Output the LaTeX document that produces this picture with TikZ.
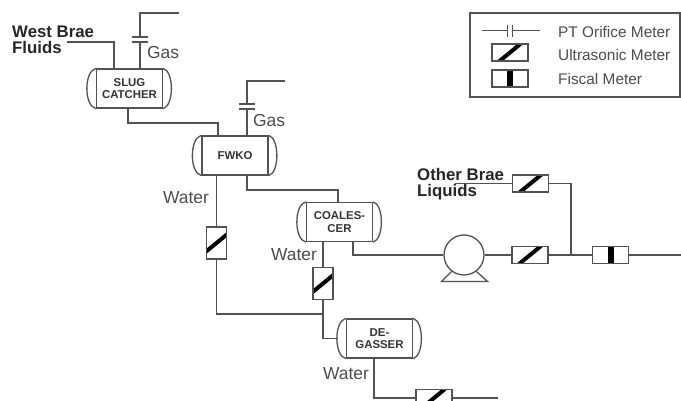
\documentclass[tikz,border=0pt]{standalone}
\usepackage{fontspec}
\setmainfont{Liberation Sans}
\usepackage{xcolor}
\usetikzlibrary{arrows.meta,positioning}

\definecolor{pipe}{gray}{0.32}
\definecolor{inktext}{gray}{0.3}

\tikzset{
  pipeline/.style={draw=pipe,line width=1.3pt},
  vessel/.style={pipeline,fill=white,minimum width=66pt,minimum height=39pt,inner sep=0pt,align=center,
    text=black!80,font=\fontsize{11.4}{12.5}\bfseries\selectfont},
  metersonic/.style={pipeline,fill=white,inner sep=0pt,minimum width=36pt,minimum height=17pt,
    path picture={\draw[black,line width=4pt]
      ([shift={(-11,9)}]path picture bounding box.center) -- ([shift={(11,-9)}]path picture bounding box.center);}},
  metersonicv/.style={metersonic,minimum width=20pt,minimum height=32pt},
  meterfiscal/.style={pipeline,fill=white,inner sep=0pt,minimum width=36pt,minimum height=17pt,
    path picture={\fill[black] ([xshift=-3pt]path picture bounding box.north) rectangle ([xshift=3pt]path picture bounding box.south);}},
  orifice/.style={inner sep=0pt,minimum width=15pt,minimum height=4.5pt},
  pumpbody/.style={pipeline,circle,fill=white,inner sep=0pt,minimum size=40pt},
  plain/.style={inner sep=0pt,anchor=west,text=inktext,font=\fontsize{17.4}{19}\selectfont},
  keytext/.style={inner sep=0pt,anchor=west,text=inktext,font=\fontsize{15.4}{17}\selectfont},
  stream/.style={inner sep=0pt,anchor=west,align=left,text=black!85,font=\fontsize{16.8}{16}\bfseries\selectfont}
}

\begin{document}
\begin{tikzpicture}[x=1pt,y=-1pt]
\useasboundingbox[fill=white] (0,0) rectangle (681,401);

\node[pipeline,minimum width=210pt,minimum height=84pt,inner sep=0pt] (legend) at (575,55) {};
\coordinate (keyleft) at (482,31);
\coordinate (keyright) at (540,31);
\node[orifice,minimum width=4.5pt,minimum height=12pt] (keyorifice) at (510,31) {};
\draw[pipeline] (keyorifice.north west)--(keyorifice.south west);
\draw[pipeline] (keyorifice.north east)--(keyorifice.south east);
\draw[pipe,line width=1pt] (keyleft)--(keyorifice.west);
\draw[pipe,line width=1pt] (keyorifice.east)--(keyright);
\node[metersonic] (keysonic) at (510,52.5) {};
\node[meterfiscal] (keyfiscal) at (510,78.5) {};
\node[keytext] (keytexta) at (558,32) {PT Orifice Meter};
\node[keytext] (keytextb) at (558,55) {Ultrasonic Meter};
\node[keytext] (keytextc) at (558,79) {Fiscal Meter};

\node[vessel] (slug) at (129.5,88.5) {SLUG\\CATCHER};
\node[vessel] (fwko) at (235,155.5) {FWKO};
\node[vessel] (coal) at (339.5,222) {COALES-\\CER};
\node[vessel] (degas) at (379.5,338.5) {DE-\\GASSER};
\foreach \vname in {slug,fwko,coal,degas} {
  \draw[pipeline] (\vname.north west) .. controls +(-12,3) and +(-12,-3) .. (\vname.south west);
  \draw[pipeline] (\vname.north east) .. controls +(11,3) and +(11,-3) .. (\vname.south east);
}

\node[orifice] (slugorifice) at (140,39.5) {};
\node[orifice] (fwkoorifice) at (247,106.5) {};
\foreach \oname in {slugorifice,fwkoorifice} {
  \draw[pipeline] (\oname.north west)--(\oname.north east);
  \draw[pipeline] (\oname.south west)--(\oname.south east);
}
\coordinate (sluggas) at (179,13);
\coordinate (fwkogas) at (285,81);
\coordinate (westin) at (67,42);
\coordinate (otherin) at (455,183.5);
\coordinate (fwkojoin) at (323,314);
\coordinate (tee) at (571,255);
\coordinate (exportout) at (681,255);
\coordinate (waterout) at (498,398);

\node[metersonicv] (fwkometer) at (216.5,243) {};
\node[metersonicv] (coalmeter) at (323,283.5) {};
\node[metersonic] (watermeter) at (434,398) {};
\node[pumpbody] (pump) at (464,255) {};
\node[metersonic] (pumpmeter) at (530,255) {};
\node[metersonic] (othermeter) at (530.5,183.5) {};
\node[meterfiscal] (fiscal) at (610.5,255) {};

\draw[pipeline] (westin) -| ([xshift=-15.5pt]slug.north);
\draw[pipeline] ([xshift=10.5pt]slug.north) -- (slugorifice);
\draw[pipeline] (slugorifice) |- (sluggas);
\draw[pipeline] ([xshift=-1.5pt]slug.south) |- (218,123) -- ([xshift=-17pt]fwko.north);
\draw[pipeline] ([xshift=12pt]fwko.north) -- (fwkoorifice);
\draw[pipeline] (fwkoorifice) |- (fwkogas);
\draw[pipeline] ([xshift=-18.5pt]fwko.south) -- (fwkometer);
\draw[pipeline] (fwkometer) |- (fwkojoin);
\draw[pipeline] ([xshift=12pt]fwko.south) |- (338,190) -- ([xshift=-1.5pt]coal.north);
\draw[pipeline] ([xshift=-16.5pt]coal.south) -- (coalmeter);
\draw[pipeline] (coalmeter) |- ([xshift=-9pt]degas.west);
\draw[pipeline] ([xshift=13.5pt]coal.south) |- (pump);
\draw[pipeline] ([xshift=-5.5pt]degas.south) |- (watermeter);
\draw[pipeline] (watermeter) -- (waterout);
\draw[pipeline] (pump) -- (pumpmeter);
\draw[pipeline] (pumpmeter) -- (fiscal);
\draw[pipeline] (fiscal) -- (exportout);
\draw[pipeline] (otherin) -- (othermeter);
\draw[pipeline] (othermeter) -| (tee);
\draw[pipeline] (pump.233) -- ++(-10,10) -- ++(46,0) -- (pump.307);

\node[stream] (westlabel) at (12,39.5) {West Brae\\Fluids};
\node[stream] (otherlabel) at (417,184.5) {Other Brae\\Liquids};
\node[plain] (gasa) at (147,52.5) {Gas};
\node[plain] (gasb) at (253,120.5) {Gas};
\node[plain] (watera) at (163,197.5) {Water};
\node[plain] (waterb) at (271,254.5) {Water};
\node[plain] (waterc) at (323,373.5) {Water};
\end{tikzpicture}
\end{document}
